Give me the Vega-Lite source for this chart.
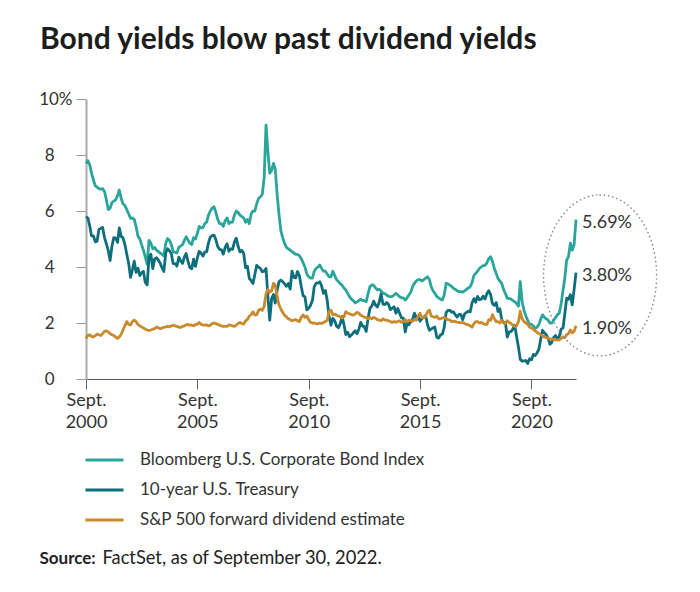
{
  "$schema": "https://vega.github.io/schema/vega-lite/v6.json",
  "autosize": {"type": "none"},
  "padding": {"left": 86, "top": 99, "right": 124, "bottom": 213},
  "width": 490,
  "height": 280,
  "background": "white",
  "title": {
    "text": "Bond yields blow past dividend yields",
    "anchor": "start",
    "frame": "group",
    "font": "Lato",
    "fontSize": 30,
    "fontWeight": "bold",
    "color": "#1d1d1d",
    "baseline": "alphabetic",
    "dx": -46,
    "offset": 11
  },
  "config": {"view": {"stroke": null}, "font": "Lato"},
  "encoding": {
    "x": {
      "field": "d",
      "type": "temporal",
      "scale": {"type": "utc", "domain": [{"year": 2000, "month": 9, "date": 1, "utc": true}, {"year": 2022, "month": 9, "date": 1, "utc": true}]},
      "axis": {
        "values": [
          {"year": 2000, "month": 9, "date": 1, "utc": true},
          {"year": 2005, "month": 9, "date": 1, "utc": true},
          {"year": 2010, "month": 9, "date": 1, "utc": true},
          {"year": 2015, "month": 9, "date": 1, "utc": true},
          {"year": 2020, "month": 9, "date": 1, "utc": true}
        ],
        "labelExpr": "['Sept.', utcFormat(datum.value, '%Y')]",
        "labelFont": "Lato",
        "labelFontSize": 18,
        "labelColor": "#333333",
        "labelLineHeight": 22,
        "labelPadding": 2,
        "labelBaseline": "top",
        "labelFlush": false,
        "labelOverlap": false,
        "grid": false,
        "domainColor": "#555555",
        "domainWidth": 1,
        "tickColor": "#666666",
        "tickSize": 10,
        "title": "FactSet, as of September 30, 2022.",
        "titleX": 16,
        "titleY": 184,
        "titleAlign": "left",
        "titleBaseline": "alphabetic",
        "titleFont": "Lato",
        "titleFontSize": 18.3,
        "titleFontWeight": "normal",
        "titleColor": "#222222"
      }
    },
    "y": {
      "field": "v",
      "type": "quantitative",
      "scale": {"domain": [0, 10], "nice": false},
      "axis": {
        "values": [0, 2, 4, 6, 8, 10],
        "labelExpr": "datum.value == 10 ? '10%' : datum.label",
        "labelAlign": "right",
        "labelPadding": {"condition": {"test": "datum.value == 10", "value": 4}, "value": 22},
        "labelFont": "Lato",
        "labelFontSize": 17,
        "labelColor": "#333333",
        "grid": false,
        "domainColor": "#aaaaaa",
        "domainWidth": 2,
        "tickColor": "#999999",
        "tickSize": 10,
        "title": "Source:",
        "titleX": -47,
        "titleY": 464,
        "titleAngle": 0,
        "titleAlign": "left",
        "titleBaseline": "alphabetic",
        "titleFont": "Lato",
        "titleFontSize": 17,
        "titleFontWeight": "bold",
        "titleColor": "#222222"
      }
    }
  },
  "layer": [
    {
      "data": {"values": [
        {"d":"2000-09","c":7.70,"t":5.80,"y":1.45},{"d":"2000-10","c":7.80,"t":5.75,"y":1.55},{"d":"2000-11","c":7.65,"t":5.47,"y":1.58},{"d":"2000-12","c":7.35,"t":5.11,"y":1.52},
        {"d":"2001-01","c":7.10,"t":5.11,"y":1.50},{"d":"2001-02","c":6.90,"t":4.90,"y":1.55},{"d":"2001-03","c":6.85,"t":4.92,"y":1.60},{"d":"2001-04","c":6.80,"t":5.34,"y":1.58},
        {"d":"2001-05","c":6.78,"t":5.38,"y":1.55},{"d":"2001-06","c":6.80,"t":5.41,"y":1.62},{"d":"2001-07","c":6.70,"t":5.05,"y":1.70},{"d":"2001-08","c":6.40,"t":4.83,"y":1.72},
        {"d":"2001-09","c":6.05,"t":4.59,"y":1.68},{"d":"2001-10","c":6.10,"t":4.23,"y":1.62},{"d":"2001-11","c":6.30,"t":4.75,"y":1.58},{"d":"2001-12","c":6.35,"t":5.05,"y":1.55},
        {"d":"2002-01","c":6.40,"t":5.03,"y":1.50},{"d":"2002-02","c":6.55,"t":4.88,"y":1.45},{"d":"2002-03","c":6.75,"t":5.40,"y":1.50},{"d":"2002-04","c":6.45,"t":5.09,"y":1.60},
        {"d":"2002-05","c":6.25,"t":5.04,"y":1.75},{"d":"2002-06","c":6.20,"t":4.80,"y":1.90},{"d":"2002-07","c":6.05,"t":4.46,"y":2.05},{"d":"2002-08","c":5.90,"t":4.14,"y":1.95},
        {"d":"2002-09","c":5.74,"t":3.63,"y":1.93},{"d":"2002-10","c":5.75,"t":3.89,"y":2.05},{"d":"2002-11","c":5.70,"t":4.21,"y":2.10},{"d":"2002-12","c":5.45,"t":3.81,"y":2.05},
        {"d":"2003-01","c":5.10,"t":3.96,"y":1.95},{"d":"2003-02","c":5.00,"t":3.69,"y":1.90},{"d":"2003-03","c":4.80,"t":3.80,"y":1.86},{"d":"2003-04","c":4.60,"t":3.84,"y":1.82},
        {"d":"2003-05","c":4.35,"t":3.45,"y":1.78},{"d":"2003-06","c":4.10,"t":3.36,"y":1.75},{"d":"2003-07","c":4.95,"t":4.35,"y":1.73},{"d":"2003-08","c":4.85,"t":4.46,"y":1.75},
        {"d":"2003-09","c":4.65,"t":3.94,"y":1.78},{"d":"2003-10","c":4.70,"t":4.29,"y":1.80},{"d":"2003-11","c":4.60,"t":4.33,"y":1.85},{"d":"2003-12","c":4.55,"t":4.25,"y":1.83},
        {"d":"2004-01","c":4.50,"t":4.13,"y":1.80},{"d":"2004-02","c":4.45,"t":3.97,"y":1.82},{"d":"2004-03","c":4.40,"t":3.84,"y":1.85},{"d":"2004-04","c":4.85,"t":4.51,"y":1.86},
        {"d":"2004-05","c":5.02,"t":4.65,"y":1.88},{"d":"2004-06","c":4.95,"t":4.58,"y":1.86},{"d":"2004-07","c":4.80,"t":4.48,"y":1.90},{"d":"2004-08","c":4.55,"t":4.12,"y":1.92},
        {"d":"2004-09","c":4.52,"t":4.12,"y":1.90},{"d":"2004-10","c":4.50,"t":4.03,"y":1.88},{"d":"2004-11","c":4.70,"t":4.35,"y":1.85},{"d":"2004-12","c":4.75,"t":4.22,"y":1.84},
        {"d":"2005-01","c":4.80,"t":4.13,"y":1.88},{"d":"2005-02","c":4.95,"t":4.36,"y":1.90},{"d":"2005-03","c":5.08,"t":4.48,"y":1.93},{"d":"2005-04","c":4.96,"t":4.20,"y":1.95},
        {"d":"2005-05","c":4.85,"t":3.98,"y":1.92},{"d":"2005-06","c":4.80,"t":3.94,"y":1.93},{"d":"2005-07","c":5.05,"t":4.28,"y":1.90},{"d":"2005-08","c":5.00,"t":4.02,"y":1.94},
        {"d":"2005-09","c":5.20,"t":4.33,"y":1.96},{"d":"2005-10","c":5.45,"t":4.56,"y":2.02},{"d":"2005-11","c":5.40,"t":4.49,"y":1.95},{"d":"2005-12","c":5.40,"t":4.39,"y":1.93},
        {"d":"2006-01","c":5.55,"t":4.53,"y":1.92},{"d":"2006-02","c":5.60,"t":4.55,"y":1.93},{"d":"2006-03","c":5.85,"t":4.85,"y":1.90},{"d":"2006-04","c":6.00,"t":5.07,"y":1.92},
        {"d":"2006-05","c":6.10,"t":5.12,"y":1.98},{"d":"2006-06","c":6.15,"t":5.14,"y":2.00},{"d":"2006-07","c":5.95,"t":4.98,"y":1.98},{"d":"2006-08","c":5.70,"t":4.73,"y":1.95},
        {"d":"2006-09","c":5.55,"t":4.63,"y":1.92},{"d":"2006-10","c":5.55,"t":4.61,"y":1.90},{"d":"2006-11","c":5.45,"t":4.46,"y":1.88},{"d":"2006-12","c":5.65,"t":4.70,"y":1.88},
        {"d":"2007-01","c":5.75,"t":4.83,"y":1.88},{"d":"2007-02","c":5.55,"t":4.56,"y":1.93},{"d":"2007-03","c":5.60,"t":4.65,"y":1.92},{"d":"2007-04","c":5.60,"t":4.63,"y":1.90},
        {"d":"2007-05","c":5.85,"t":4.89,"y":1.88},{"d":"2007-06","c":6.00,"t":5.03,"y":1.92},{"d":"2007-07","c":5.95,"t":4.74,"y":1.98},{"d":"2007-08","c":5.85,"t":4.54,"y":2.02},
        {"d":"2007-09","c":5.80,"t":4.59,"y":1.98},{"d":"2007-10","c":5.75,"t":4.48,"y":1.96},{"d":"2007-11","c":5.60,"t":3.97,"y":2.08},{"d":"2007-12","c":5.70,"t":4.03,"y":2.12},
        {"d":"2008-01","c":5.55,"t":3.59,"y":2.25},{"d":"2008-02","c":5.90,"t":3.51,"y":2.30},{"d":"2008-03","c":6.00,"t":3.41,"y":2.40},{"d":"2008-04","c":6.00,"t":3.73,"y":2.28},
        {"d":"2008-05","c":6.25,"t":4.06,"y":2.30},{"d":"2008-06","c":6.45,"t":3.99,"y":2.45},{"d":"2008-07","c":6.50,"t":3.95,"y":2.50},{"d":"2008-08","c":6.60,"t":3.83,"y":2.45},
        {"d":"2008-09","c":7.20,"t":3.85,"y":2.60},{"d":"2008-10","c":9.07,"t":3.95,"y":3.05},{"d":"2008-11","c":8.10,"t":2.93,"y":3.20},{"d":"2008-12","c":7.35,"t":2.10,"y":3.10},
        {"d":"2009-01","c":7.45,"t":2.87,"y":3.15},{"d":"2009-02","c":7.70,"t":3.02,"y":3.42},{"d":"2009-03","c":7.50,"t":2.71,"y":3.35},{"d":"2009-04","c":6.60,"t":3.16,"y":2.95},
        {"d":"2009-05","c":5.90,"t":3.47,"y":2.65},{"d":"2009-06","c":5.30,"t":3.53,"y":2.50},{"d":"2009-07","c":5.05,"t":3.48,"y":2.38},{"d":"2009-08","c":4.85,"t":3.40,"y":2.28},
        {"d":"2009-09","c":4.70,"t":3.31,"y":2.22},{"d":"2009-10","c":4.65,"t":3.41,"y":2.15},{"d":"2009-11","c":4.60,"t":3.21,"y":2.12},{"d":"2009-12","c":4.55,"t":3.85,"y":2.08},
        {"d":"2010-01","c":4.50,"t":3.63,"y":2.10},{"d":"2010-02","c":4.45,"t":3.61,"y":2.12},{"d":"2010-03","c":4.45,"t":3.84,"y":2.08},{"d":"2010-04","c":4.40,"t":3.69,"y":2.05},
        {"d":"2010-05","c":4.30,"t":3.31,"y":2.20},{"d":"2010-06","c":4.15,"t":2.97,"y":2.29},{"d":"2010-07","c":4.00,"t":2.94,"y":2.20},{"d":"2010-08","c":3.75,"t":2.47,"y":2.25},
        {"d":"2010-09","c":3.65,"t":2.53,"y":2.12},{"d":"2010-10","c":3.60,"t":2.63,"y":2.02},{"d":"2010-11","c":3.60,"t":2.81,"y":2.00},{"d":"2010-12","c":3.85,"t":3.30,"y":2.00},
        {"d":"2011-01","c":3.95,"t":3.42,"y":1.98},{"d":"2011-02","c":4.00,"t":3.43,"y":1.97},{"d":"2011-03","c":4.07,"t":3.47,"y":2.00},{"d":"2011-04","c":3.95,"t":3.32,"y":1.98},
        {"d":"2011-05","c":3.85,"t":3.06,"y":2.02},{"d":"2011-06","c":3.85,"t":3.16,"y":2.05},{"d":"2011-07","c":3.75,"t":2.82,"y":2.10},{"d":"2011-08","c":3.65,"t":2.23,"y":2.42},
        {"d":"2011-09","c":3.65,"t":1.92,"y":2.45},{"d":"2011-10","c":3.85,"t":2.17,"y":2.30},{"d":"2011-11","c":3.70,"t":2.08,"y":2.32},{"d":"2011-12","c":3.55,"t":1.89,"y":2.28},
        {"d":"2012-01","c":3.48,"t":1.83,"y":2.25},{"d":"2012-02","c":3.40,"t":1.98,"y":2.22},{"d":"2012-03","c":3.35,"t":2.23,"y":2.18},{"d":"2012-04","c":3.25,"t":1.95,"y":2.22},
        {"d":"2012-05","c":3.18,"t":1.59,"y":2.40},{"d":"2012-06","c":3.05,"t":1.67,"y":2.36},{"d":"2012-07","c":2.94,"t":1.51,"y":2.33},{"d":"2012-08","c":2.85,"t":1.57,"y":2.30},
        {"d":"2012-09","c":2.80,"t":1.65,"y":2.28},{"d":"2012-10","c":2.72,"t":1.72,"y":2.32},{"d":"2012-11","c":2.75,"t":1.62,"y":2.38},{"d":"2012-12","c":2.80,"t":1.78,"y":2.35},
        {"d":"2013-01","c":2.85,"t":2.02,"y":2.28},{"d":"2013-02","c":2.80,"t":1.89,"y":2.25},{"d":"2013-03","c":2.80,"t":1.87,"y":2.20},{"d":"2013-04","c":2.76,"t":1.70,"y":2.20},
        {"d":"2013-05","c":3.05,"t":2.16,"y":2.15},{"d":"2013-06","c":3.30,"t":2.52,"y":2.20},{"d":"2013-07","c":3.36,"t":2.60,"y":2.15},{"d":"2013-08","c":3.35,"t":2.78,"y":2.20},
        {"d":"2013-09","c":3.25,"t":2.64,"y":2.17},{"d":"2013-10","c":3.18,"t":2.57,"y":2.12},{"d":"2013-11","c":3.20,"t":2.75,"y":2.10},{"d":"2013-12","c":3.15,"t":3.04,"y":2.08},
        {"d":"2014-01","c":3.06,"t":2.67,"y":2.15},{"d":"2014-02","c":3.05,"t":2.66,"y":2.10},{"d":"2014-03","c":3.00,"t":2.73,"y":2.10},{"d":"2014-04","c":2.95,"t":2.67,"y":2.08},
        {"d":"2014-05","c":2.94,"t":2.48,"y":2.05},{"d":"2014-06","c":2.95,"t":2.53,"y":2.02},{"d":"2014-07","c":3.00,"t":2.58,"y":2.05},{"d":"2014-08","c":3.06,"t":2.35,"y":2.03},
        {"d":"2014-09","c":3.00,"t":2.52,"y":2.05},{"d":"2014-10","c":2.94,"t":2.35,"y":2.08},{"d":"2014-11","c":2.90,"t":2.18,"y":2.02},{"d":"2014-12","c":2.90,"t":2.17,"y":2.05},
        {"d":"2015-01","c":2.82,"t":1.68,"y":2.12},{"d":"2015-02","c":2.90,"t":2.00,"y":2.05},{"d":"2015-03","c":3.00,"t":1.94,"y":2.10},{"d":"2015-04","c":3.10,"t":2.05,"y":2.08},
        {"d":"2015-05","c":3.30,"t":2.12,"y":2.07},{"d":"2015-06","c":3.42,"t":2.35,"y":2.12},{"d":"2015-07","c":3.50,"t":2.20,"y":2.10},{"d":"2015-08","c":3.55,"t":2.22,"y":2.25},
        {"d":"2015-09","c":3.55,"t":2.06,"y":2.35},{"d":"2015-10","c":3.50,"t":2.16,"y":2.20},{"d":"2015-11","c":3.55,"t":2.21,"y":2.18},{"d":"2015-12","c":3.60,"t":2.27,"y":2.25},
        {"d":"2016-01","c":3.65,"t":1.94,"y":2.40},{"d":"2016-02","c":3.55,"t":1.74,"y":2.46},{"d":"2016-03","c":3.30,"t":1.78,"y":2.25},{"d":"2016-04","c":3.15,"t":1.83,"y":2.22},
        {"d":"2016-05","c":3.06,"t":1.85,"y":2.20},{"d":"2016-06","c":2.95,"t":1.49,"y":2.25},{"d":"2016-07","c":2.90,"t":1.46,"y":2.15},{"d":"2016-08","c":2.85,"t":1.58,"y":2.15},
        {"d":"2016-09","c":2.82,"t":1.60,"y":2.18},{"d":"2016-10","c":3.00,"t":1.84,"y":2.20},{"d":"2016-11","c":3.42,"t":2.37,"y":2.15},{"d":"2016-12","c":3.40,"t":2.45,"y":2.12},
        {"d":"2017-01","c":3.35,"t":2.45,"y":2.10},{"d":"2017-02","c":3.30,"t":2.39,"y":2.05},{"d":"2017-03","c":3.24,"t":2.40,"y":2.07},{"d":"2017-04","c":3.20,"t":2.29,"y":2.05},
        {"d":"2017-05","c":3.15,"t":2.21,"y":2.03},{"d":"2017-06","c":3.12,"t":2.31,"y":2.02},{"d":"2017-07","c":3.12,"t":2.30,"y":2.00},{"d":"2017-08","c":3.10,"t":2.12,"y":2.02},
        {"d":"2017-09","c":3.15,"t":2.33,"y":1.98},{"d":"2017-10","c":3.20,"t":2.38,"y":1.95},{"d":"2017-11","c":3.25,"t":2.42,"y":1.93},{"d":"2017-12","c":3.30,"t":2.40,"y":1.90},
        {"d":"2018-01","c":3.45,"t":2.72,"y":1.85},{"d":"2018-02","c":3.70,"t":2.87,"y":1.98},{"d":"2018-03","c":3.77,"t":2.74,"y":2.05},{"d":"2018-04","c":3.85,"t":2.95,"y":2.05},
        {"d":"2018-05","c":3.95,"t":2.83,"y":2.00},{"d":"2018-06","c":4.00,"t":2.85,"y":2.02},{"d":"2018-07","c":4.05,"t":2.96,"y":1.98},{"d":"2018-08","c":4.06,"t":2.86,"y":1.95},
        {"d":"2018-09","c":4.15,"t":3.05,"y":1.95},{"d":"2018-10","c":4.30,"t":3.15,"y":2.12},{"d":"2018-11","c":4.37,"t":3.01,"y":2.10},{"d":"2018-12","c":4.20,"t":2.69,"y":2.30},
        {"d":"2019-01","c":3.95,"t":2.63,"y":2.15},{"d":"2019-02","c":3.77,"t":2.73,"y":2.05},{"d":"2019-03","c":3.60,"t":2.41,"y":2.05},{"d":"2019-04","c":3.50,"t":2.51,"y":2.00},
        {"d":"2019-05","c":3.42,"t":2.14,"y":2.10},{"d":"2019-06","c":3.20,"t":2.00,"y":2.02},{"d":"2019-07","c":3.05,"t":2.02,"y":1.98},{"d":"2019-08","c":2.88,"t":1.50,"y":2.08},
        {"d":"2019-09","c":2.88,"t":1.68,"y":2.02},{"d":"2019-10","c":2.85,"t":1.69,"y":1.98},{"d":"2019-11","c":2.80,"t":1.78,"y":1.92},{"d":"2019-12","c":2.76,"t":1.92,"y":1.88},
        {"d":"2020-01","c":2.70,"t":1.51,"y":1.90},{"d":"2020-02","c":2.60,"t":1.13,"y":2.05},{"d":"2020-03","c":3.48,"t":0.70,"y":2.42},{"d":"2020-04","c":2.75,"t":0.64,"y":2.15},
        {"d":"2020-05","c":2.46,"t":0.65,"y":2.05},{"d":"2020-06","c":2.25,"t":0.66,"y":2.00},{"d":"2020-07","c":2.10,"t":0.55,"y":1.95},{"d":"2020-08","c":1.95,"t":0.72,"y":1.85},
        {"d":"2020-09","c":1.95,"t":0.69,"y":1.82},{"d":"2020-10","c":1.90,"t":0.88,"y":1.78},{"d":"2020-11","c":1.81,"t":0.84,"y":1.72},{"d":"2020-12","c":1.85,"t":0.93,"y":1.66},
        {"d":"2021-01","c":1.95,"t":1.07,"y":1.62},{"d":"2021-02","c":2.15,"t":1.44,"y":1.58},{"d":"2021-03","c":2.29,"t":1.74,"y":1.55},{"d":"2021-04","c":2.20,"t":1.65,"y":1.50},
        {"d":"2021-05","c":2.15,"t":1.58,"y":1.48},{"d":"2021-06","c":2.10,"t":1.45,"y":1.45},{"d":"2021-07","c":2.00,"t":1.24,"y":1.43},{"d":"2021-08","c":2.00,"t":1.31,"y":1.42},
        {"d":"2021-09","c":2.10,"t":1.49,"y":1.42},{"d":"2021-10","c":2.20,"t":1.55,"y":1.40},{"d":"2021-11","c":2.30,"t":1.43,"y":1.39},{"d":"2021-12","c":2.35,"t":1.52,"y":1.40},
        {"d":"2022-01","c":2.70,"t":1.78,"y":1.45},{"d":"2022-02","c":3.18,"t":1.83,"y":1.50},{"d":"2022-03","c":3.60,"t":2.32,"y":1.48},{"d":"2022-04","c":4.25,"t":2.89,"y":1.58},
        {"d":"2022-05","c":4.37,"t":2.85,"y":1.62},{"d":"2022-06","c":4.85,"t":3.01,"y":1.75},{"d":"2022-07","c":4.60,"t":2.65,"y":1.65},{"d":"2022-08","c":4.80,"t":3.19,"y":1.70},
        {"d":"2022-09","c":5.69,"t":3.80,"y":1.90}
      ]},
      "transform": [{"fold": ["c", "t", "y"], "as": ["k", "v"]}],
      "mark": {"type": "line", "strokeWidth": 2.8, "strokeJoin": "round"},
      "encoding": {
        "color": {
          "field": "k",
          "type": "nominal",
          "scale": {"domain": ["c", "t", "y"], "range": ["#2aa59b", "#0d6e7c", "#c98a2e"]},
          "legend": {
            "title": null,
            "orient": "none",
            "legendX": -2,
            "legendY": 353,
            "direction": "vertical",
            "columns": 1,
            "padding": 0,
            "symbolType": "stroke",
            "symbolSize": 1444,
            "symbolStrokeWidth": 3,
            "clipHeight": 16,
            "rowPadding": 13,
            "labelOffset": 15,
            "labelFont": "Lato",
            "labelFontSize": 17,
            "labelColor": "#333333",
            "labelLimit": 400,
            "labelExpr": "datum.value == 'c' ? 'Bloomberg U.S. Corporate Bond Index' : datum.value == 't' ? '10-year U.S. Treasury' : 'S&P 500 forward dividend estimate'"
          }
        }
      }
    },
    {
      "data": {"values": [
        {"d": "2022-09", "v": 5.69, "label": "5.69%"},
        {"d": "2022-09", "v": 3.80, "label": "3.80%"},
        {"d": "2022-09", "v": 1.90, "label": "1.90%"}
      ]},
      "mark": {"type": "text", "align": "left", "baseline": "middle", "dx": 6, "dy": 3, "font": "Lato", "fontSize": 18, "color": "#333333"},
      "encoding": {"text": {"field": "label"}}
    },
    {
      "data": {"values": [{"d": "2023-10", "v": 3.7}]},
      "mark": {
        "type": "point",
        "shape": "M 0,-1 C 0.3877,-1 0.702,-0.5523 0.702,0 C 0.702,0.5523 0.3877,1 0,1 C -0.3877,1 -0.702,0.5523 -0.702,0 C -0.702,-0.5523 -0.3877,-1 0,-1 Z",
        "size": 25921,
        "filled": false,
        "stroke": "#8a8a8a",
        "strokeWidth": 1.6,
        "strokeDash": [0.1, 4.2],
        "strokeCap": "round",
        "opacity": 1
      },
      "encoding": {}
    }
  ]
}
